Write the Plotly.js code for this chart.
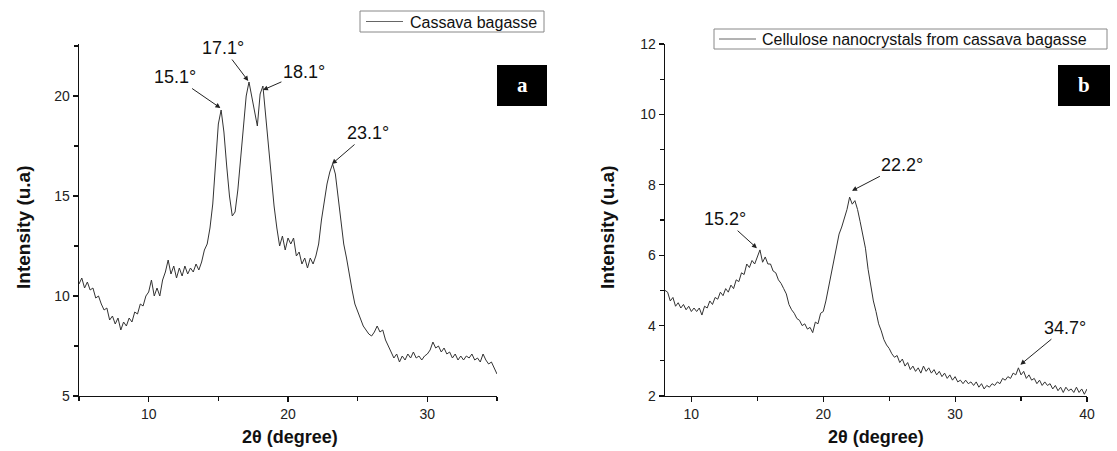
<!DOCTYPE html>
<html>
<head>
<meta charset="utf-8">
<script src="https://cdn.plot.ly/plotly-3.0.1.min.js"></script>
<style>
html,body{margin:0;padding:0;background:#fff;}
#chart{width:1117px;height:451px;}
</style>
</head>
<body>
<div id="chart"></div>
<script>
// Panel a: Cassava bagasse, 2θ from 5 to 35 step 0.2
const aStart = 5, aStep = 0.2;
const aIntensity = [
  10.6,10.9,10.4,10.7,10.3,10.4,9.9,10.0,9.6,9.3,
  9.4,8.8,9.0,8.6,8.9,8.3,8.7,8.5,8.9,8.7,
  9.2,9.1,9.6,9.5,10.0,10.2,10.8,10.0,10.4,10.0,
  10.8,11.2,11.8,11.1,11.5,10.9,11.4,11.0,11.5,11.1,
  11.4,11.2,11.6,11.3,11.7,12.3,12.6,13.4,14.6,16.4,
  18.6,19.3,18.2,16.5,15.0,14.0,14.2,15.3,16.9,18.4,
  20.0,20.7,19.9,19.2,18.5,20.1,20.5,19.0,17.4,15.8,
  14.5,13.4,12.5,13.0,12.3,12.9,12.6,12.9,12.0,12.2,
  11.6,11.9,11.4,11.9,11.6,12.0,12.6,13.8,14.8,15.6,
  16.2,16.6,16.1,14.9,13.6,12.6,11.9,11.0,10.3,9.6,
  9.2,8.9,8.5,8.3,8.1,8.0,8.2,8.5,8.2,8.3,
  7.8,7.5,7.2,6.9,7.1,6.7,7.0,6.8,7.1,6.9,
  7.2,6.9,7.0,6.8,7.0,7.1,7.3,7.7,7.4,7.5,
  7.2,7.4,7.1,7.2,6.9,7.1,6.8,7.0,6.8,7.0,
  6.9,7.1,6.8,6.9,6.7,7.1,6.8,6.6,6.7,6.4,
  6.1
];
// Panel b: Cellulose nanocrystals, 2θ from 8 to 40 step 0.2
const bStart = 8, bStep = 0.2;
const bIntensity = [
  5.0,4.95,4.7,4.8,4.55,4.65,4.5,4.6,4.45,4.55,
  4.4,4.5,4.4,4.5,4.3,4.55,4.5,4.7,4.6,4.8,
  4.75,4.95,4.85,5.05,4.95,5.15,5.05,5.3,5.25,5.5,
  5.45,5.75,5.65,5.85,5.75,5.95,6.15,5.8,5.95,5.75,
  5.75,5.55,5.5,5.3,5.2,5.05,4.9,4.6,4.45,4.35,
  4.2,4.15,4.0,4.05,3.9,3.95,3.8,4.1,4.05,4.35,
  4.4,4.7,5.1,5.5,5.9,6.3,6.6,6.8,7.05,7.3,
  7.65,7.45,7.55,7.3,6.95,6.6,6.2,5.6,5.1,4.7,
  4.4,4.05,3.85,3.6,3.45,3.35,3.2,3.1,3.15,2.95,
  3.05,2.85,2.95,2.75,2.85,2.7,2.8,2.65,2.85,2.7,
  2.8,2.65,2.75,2.6,2.7,2.55,2.65,2.5,2.6,2.45,
  2.55,2.4,2.45,2.35,2.45,2.35,2.4,2.3,2.4,2.25,
  2.35,2.2,2.3,2.25,2.35,2.3,2.4,2.35,2.5,2.45,
  2.55,2.5,2.65,2.6,2.8,2.6,2.7,2.5,2.6,2.45,
  2.5,2.35,2.45,2.3,2.4,2.3,2.35,2.2,2.3,2.15,
  2.25,2.1,2.25,2.15,2.2,2.1,2.25,2.1,2.2,2.05,
  2.2
];
const seriesNames = ["Cassava bagasse", "Cellulose nanocrystals from cassava bagasse"];
// peak labels: [2θ, intensity, label]
const peaksA = [[15.15,19.4,"15.1°"],[17.15,20.75,"17.1°"],[18.2,20.3,"18.1°"],[23.15,16.6,"23.1°"]];
const peaksB = [[14.97,6.2,"15.2°"],[22.18,7.83,"22.2°"],[34.95,2.89,"34.7°"]];
const panelLetters = ["a","b"];

const aX = aIntensity.map((_, i) => +(aStart + i*aStep).toFixed(2));
const bX = bIntensity.map((_, i) => +(bStart + i*bStep).toFixed(2));

const W = 1117, H = 451;
const px = v => v / W;
const py = v => 1 - v / H;

const FONT = "Liberation Sans, Arial, Helvetica, sans-serif";
const lineStyle = {color:"#333", width:1};

const traces = [
  {x:aX, y:aIntensity, type:"scatter", mode:"lines", line:lineStyle, name:seriesNames[0], xaxis:"x", yaxis:"y", showlegend:false},
  {x:bX, y:bIntensity, type:"scatter", mode:"lines", line:lineStyle, name:seriesNames[1], xaxis:"x2", yaxis:"y2", showlegend:false}
];

const axCommon = {
  showline:true, linecolor:"#111", linewidth:1.3, showgrid:false, zeroline:false,
  ticks:"outside", ticklen:5, tickwidth:1.2, tickcolor:"#111",
  tickfont:{family:FONT, size:14, color:"#222"},
  mirror:false, fixedrange:true
};
const yDom = [py(396), py(44)];
const minorOf = d => ({dtick:d, tick0:0, ticks:"outside", ticklen:4, tickwidth:1.2, tickcolor:"#111"});

const layout = {
  width:W, height:H,
  margin:{l:0,r:0,t:0,b:0},
  paper_bgcolor:"#fff", plot_bgcolor:"#fff",
  showlegend:false,
  xaxis:Object.assign({}, axCommon, {domain:[px(79), px(497)], anchor:"y", range:[5,35], dtick:10, tick0:0, minor:minorOf(5)}),
  yaxis:Object.assign({}, axCommon, {domain:yDom, anchor:"x", range:[5,22.6], dtick:5, tick0:0, minor:minorOf(2.5)}),
  xaxis2:Object.assign({}, axCommon, {domain:[px(665), px(1087)], anchor:"y2", range:[8,40], dtick:10, tick0:0, minor:minorOf(5)}),
  yaxis2:Object.assign({}, axCommon, {domain:yDom, anchor:"x2", range:[2,12], dtick:2, tick0:0, minor:minorOf(1)}),
  shapes:[],
  annotations:[]
};

const shp = layout.shapes, ann = layout.annotations;
// legends (boxes + sample lines + text)
const legendBoxes = [
  {x0:360, x1:544, y0:11, y1:32, l0:366, l1:403, tx:408, name:seriesNames[0]},
  {x0:714, x1:1107, y0:29, y1:49, l0:719, l1:756, tx:760, name:seriesNames[1]}
];
legendBoxes.forEach(b => {
  shp.push({type:"rect", xref:"paper", yref:"paper", x0:px(b.x0), x1:px(b.x1), y0:py(b.y1), y1:py(b.y0),
    fillcolor:"#fff", line:{color:"#888", width:1}});
  const ym = (b.y0 + b.y1) / 2;
  shp.push({type:"line", xref:"paper", yref:"paper", x0:px(b.l0), x1:px(b.l1), y0:py(ym), y1:py(ym), line:{color:"#666", width:1}});
  ann.push({xref:"paper", yref:"paper", x:px(b.tx), y:py(ym+0.5), xanchor:"left", yanchor:"middle", text:b.name, showarrow:false,
    font:{family:FONT, size:16, color:"#111"}});
});
// panel letter boxes
const letterBoxes = [[497,547],[1058,1110]];
letterBoxes.forEach((b,i) => {
  shp.push({type:"rect", xref:"paper", yref:"paper", x0:px(b[0]), x1:px(b[1]), y0:py(106), y1:py(65), fillcolor:"#000", line:{width:0}});
  ann.push({xref:"paper", yref:"paper", x:px((b[0]+b[1])/2), y:py(85), xanchor:"center", yanchor:"middle",
    text:"<b>"+panelLetters[i]+"</b>", showarrow:false,
    font:{family:"Liberation Serif, DejaVu Serif, serif", size:21, color:"#fff"}});
});
// axis titles
const titleFont = {family:FONT, size:18, color:"#111"};
[[290],[876]].forEach(c => ann.push({xref:"paper", yref:"paper", x:px(c[0]), y:py(437), xanchor:"center", yanchor:"middle",
  text:"<b>2θ (degree)</b>", showarrow:false, font:titleFont}));
[[23],[607]].forEach(c => ann.push({xref:"paper", yref:"paper", x:px(c[0]), y:py(227), xanchor:"center", yanchor:"middle",
  text:"<b>Intensity (u.a)</b>", showarrow:false, textangle:-90, font:{family:FONT, size:19, color:"#111"}}));
// peak arrows
const offA = [[-45,-31],[-25,-33],[41,-18],[36,-31]];
const offB = [[-32,-29],[50,-26],[45,-37]];
const pkFont = {family:FONT, size:18, color:"#111"};
peaksA.forEach((p,i)=>ann.push({xref:"x", yref:"y", x:p[0], y:p[1], text:p[2], showarrow:true, ax:offA[i][0], ay:offA[i][1],
  arrowhead:2, arrowsize:1, arrowwidth:1, arrowcolor:"#222", font:pkFont}));
peaksB.forEach((p,i)=>ann.push({xref:"x2", yref:"y2", x:p[0], y:p[1], text:p[2], showarrow:true, ax:offB[i][0], ay:offB[i][1],
  arrowhead:2, arrowsize:1, arrowwidth:1, arrowcolor:"#222", font:pkFont}));

Plotly.newPlot("chart", traces, layout, {displayModeBar:false, staticPlot:true});
</script>
</body>
</html>
